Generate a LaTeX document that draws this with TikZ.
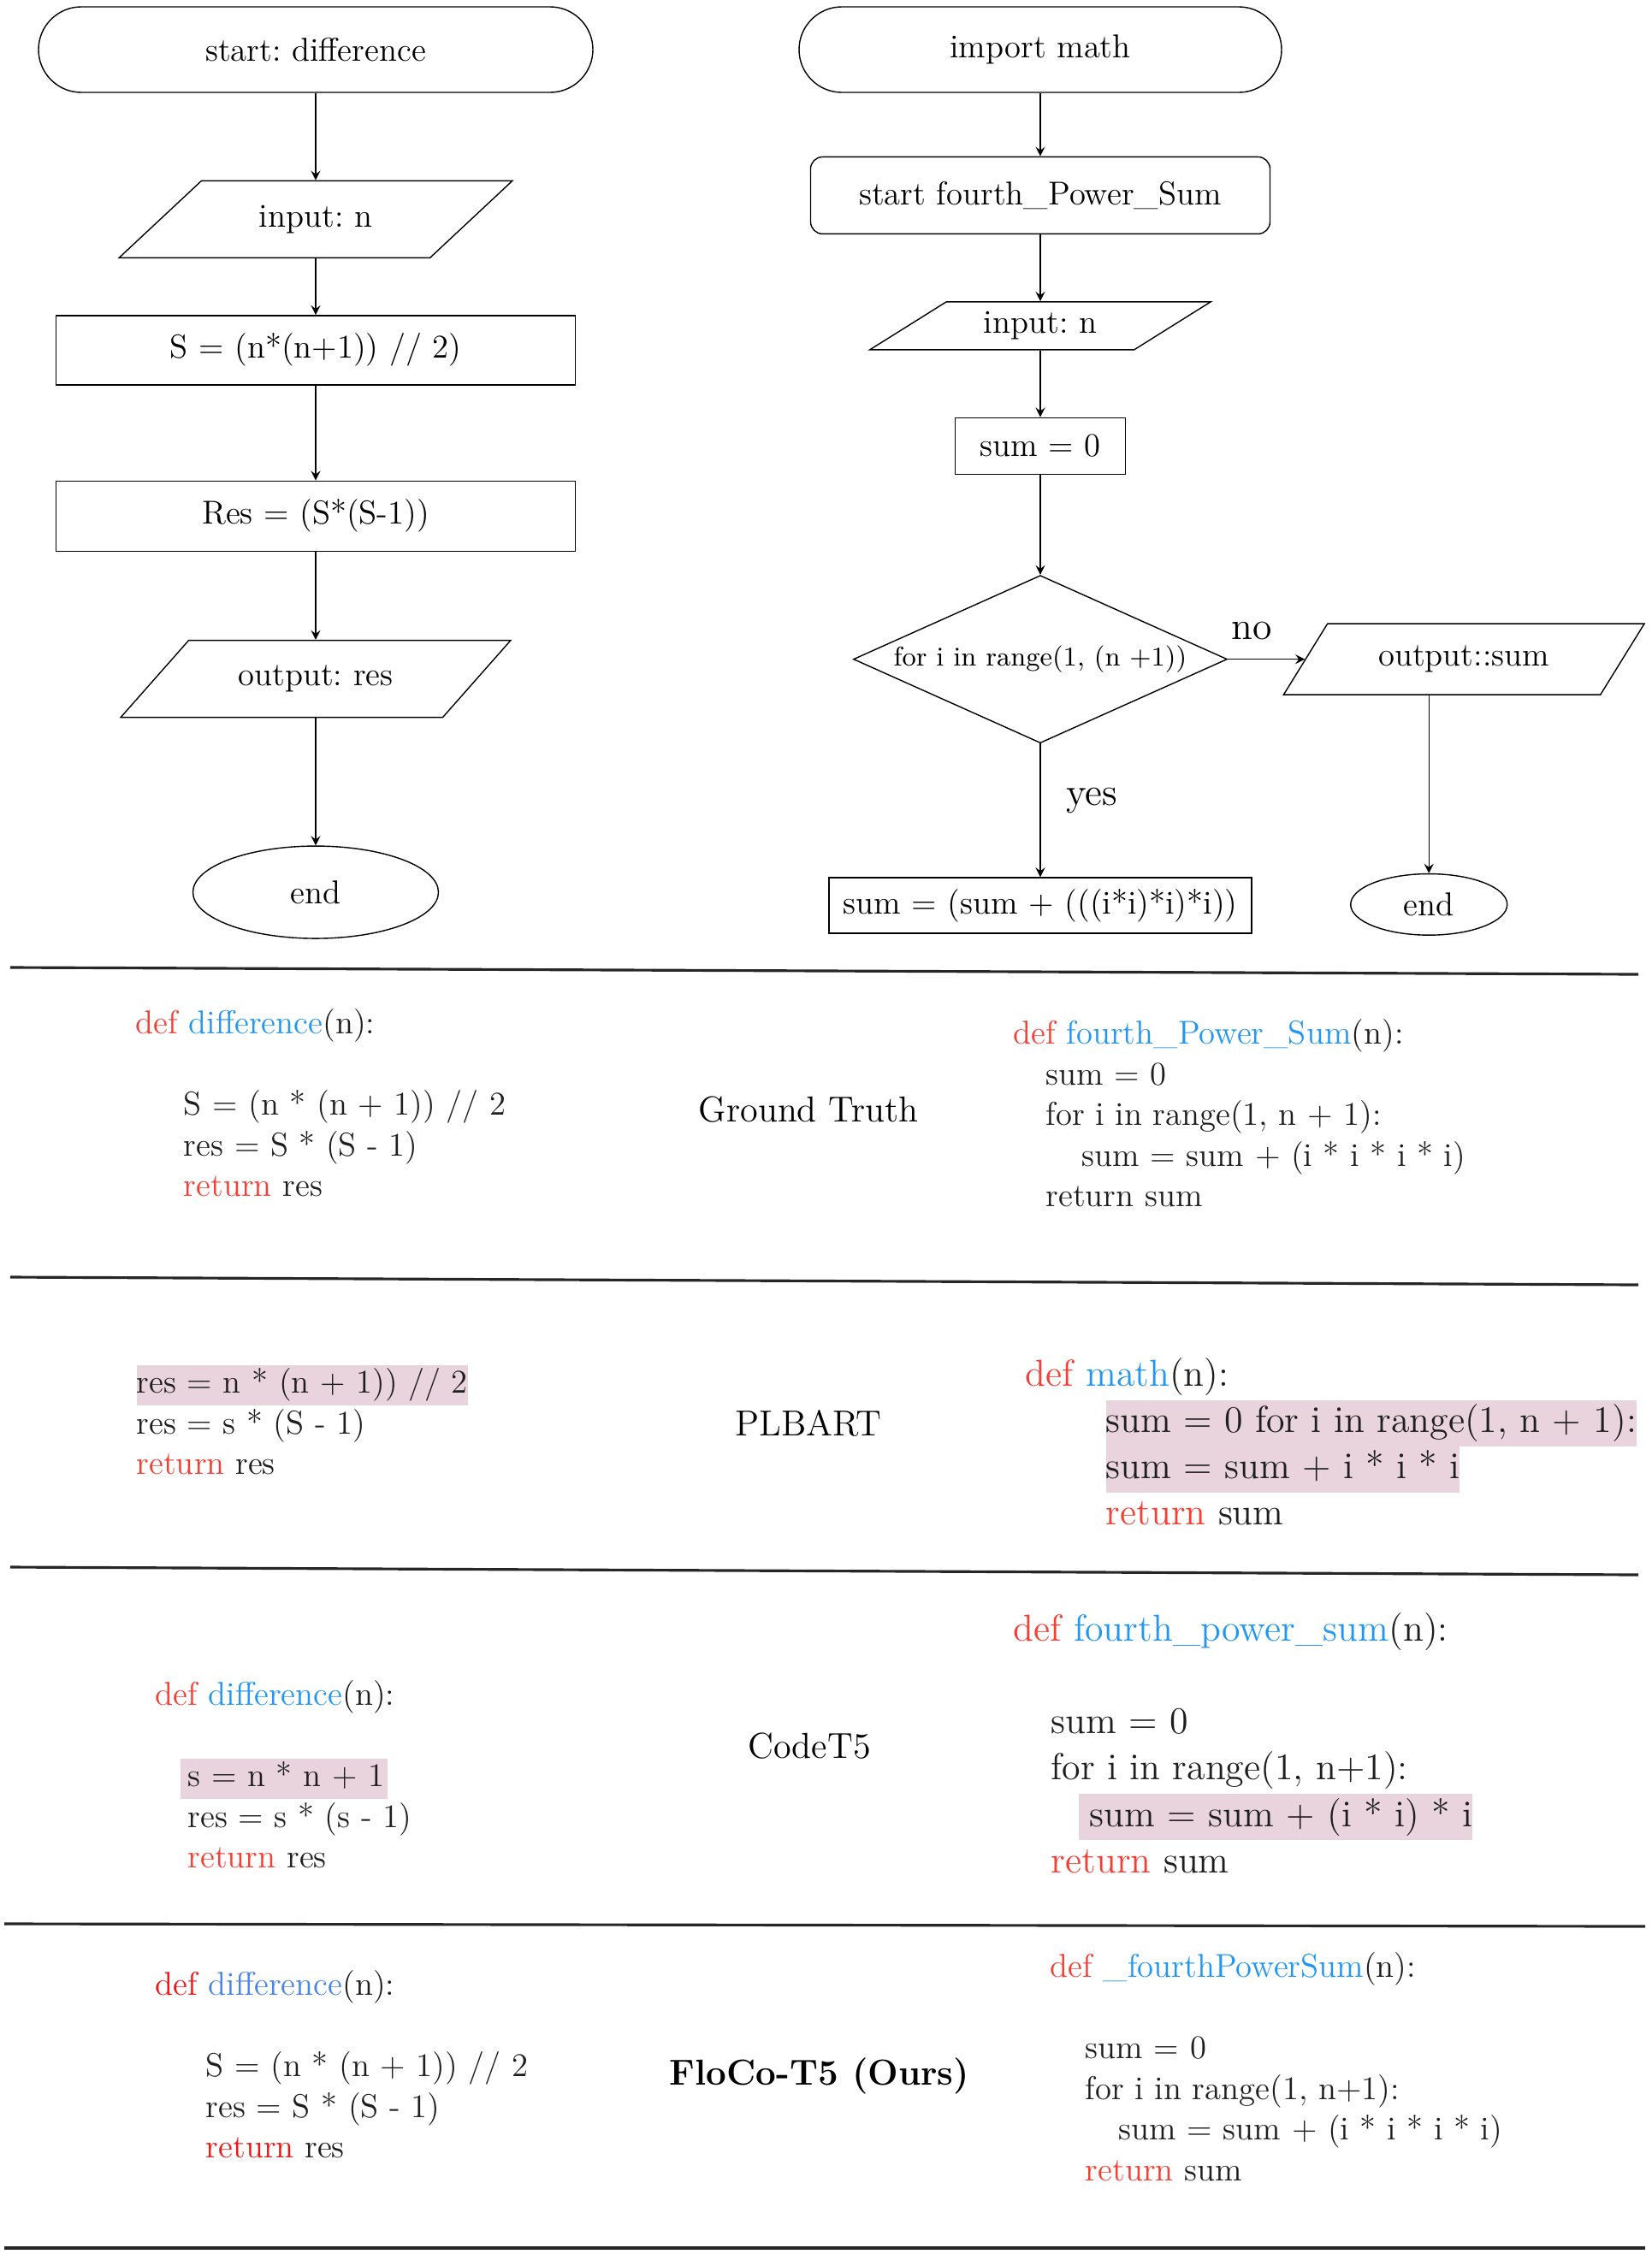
\documentclass[tikz,border=0pt]{standalone}
\usepackage{tikz}
\usetikzlibrary{arrows,shapes,positioning}
\usepackage{xcolor}
\definecolor{kwred}{RGB}{245,62,52}
\definecolor{fnblue}{RGB}{33,150,243}
\definecolor{oursred}{RGB}{240,20,20}
\definecolor{oursblue}{RGB}{72,132,232}
\definecolor{hlpink}{RGB}{233,212,222}
\definecolor{codegray}{RGB}{30,30,30}
\tikzstyle{base} = [draw, thin, font=\fontsize{11}{13}\selectfont, text centered]
\tikzstyle{terminal} = [base, rectangle, rounded corners=0.5cm, minimum height=1cm]
\tikzstyle{process} = [base, rectangle]
\tikzstyle{io} = [base, trapezium, trapezium left angle=45, trapezium right angle=135, trapezium stretches=true]
\tikzstyle{decision} = [base, diamond, aspect=2.23, inner sep=0pt]
\tikzstyle{stop} = [base, ellipse]
\tikzstyle{arrow} = [thin,->,>=stealth]
\tikzstyle{code} = [anchor=north west, inner sep=0pt, align=left, text=codegray, font=\fontsize{11}{13.5}\selectfont]
\tikzstyle{bigcode} = [code, font=\fontsize{12.5}{15.4}\selectfont]
\tikzstyle{model} = [anchor=base, font=\fontsize{12}{14}\selectfont]
\tikzstyle{rule} = [line width=0.9pt, black!85]
\newcommand{\kw}[1]{\textcolor{kwred}{#1}}
\newcommand{\fn}[1]{\textcolor{fnblue}{#1}}
\newcommand{\hl}[1]{{\setlength{\fboxsep}{0pt}\colorbox{hlpink}{\strut#1}}}

\begin{document}
\frenchspacing
\begin{tikzpicture}
\useasboundingbox (0,0) rectangle (19.30,-26.35);
% Flowchart: difference
\node[terminal, minimum width=6.48cm] (lstart) at (3.69,-0.58) {start: difference};
\node[io, minimum width=4.6cm, minimum height=0.9cm, below=1.02cm of lstart] (lin) {input: n};
\node[process, minimum width=6.07cm, minimum height=0.81cm, below=0.66cm of lin] (lcalc) {S = (n*(n+1)) // 2)};
\node[process, minimum width=6.07cm, minimum height=0.82cm, below=1.11cm of lcalc] (lres) {Res = (S*(S-1))};
\node[io, minimum width=4.6cm, minimum height=0.9cm, below=1.03cm of lres] (lout) {output: res};
\node[stop, minimum width=2.87cm, minimum height=1.08cm, below=1.49cm of lout] (lend) {end};

\draw[arrow] (lstart.south) -- (lin.north);
\draw[arrow] (lin.south) -- (lcalc.north);
\draw[arrow] (lcalc.south) -- (lres.north);
\draw[arrow] (lres.south) -- (lout.north);
\draw[arrow] (lout.south) -- (lend.north);

% Flowchart: fourth power sum
\node[terminal, minimum width=5.64cm] (rimp) at (12.16,-0.58) {import math};
\node[process, rounded corners=4pt, minimum width=5.37cm, minimum height=0.9cm, below=0.74cm of rimp] (rstart) {start fourth\_Power\_Sum};
\node[io, trapezium left angle=35, trapezium right angle=145, minimum width=4.01cm, minimum height=0.56cm, inner sep=1pt, below=0.78cm of rstart] (rin) {input: n};
\node[process, minimum width=1.99cm, minimum height=0.66cm, below=0.78cm of rin] (rsum) {sum = 0};
\node[decision, minimum width=4.37cm, minimum height=1.96cm, font=\fontsize{9}{11}\selectfont, below=1.17cm of rsum] (rloop) {for i in range(1, (n +1))};
\node[process, minimum width=4.94cm, minimum height=0.65cm, below=1.56cm of rloop] (rbody) {sum = (sum + (((i*i)*i)*i))};
\node[io, trapezium left angle=49, trapezium right angle=131, minimum width=4.23cm, minimum height=0.83cm, inner sep=1pt, right=0.9cm of rloop] (rout) {output::sum};
\node[stop, minimum width=1.83cm, minimum height=0.69cm, below=2.08cm of rout, xshift=-0.41cm] (rend) {end};

\draw[arrow] (rimp.south) -- (rstart.north);
\draw[arrow] (rstart.south) -- (rin.north);
\draw[arrow] (rin.south) -- (rsum.north);
\draw[arrow] (rsum.south) -- (rloop.north);
\draw[arrow] (rloop.east) -- node[above=3pt, pos=0.31, font=\fontsize{13}{15}\selectfont] {no} (rout.west);
\draw[arrow] (rloop.south) -- node[right=5pt, pos=0.43, font=\fontsize{13}{15}\selectfont] {yes} (rbody.north);
\draw[arrow] (rout.south -| rend.north) -- (rend.north);

% Separators
\draw[rule] (0.12,-11.31) -- (19.15,-11.39);
\draw[rule] (0.12,-14.93) -- (19.15,-15.02);
\draw[rule] (0.12,-18.32) -- (19.15,-18.41);
\draw[rule] (0.05,-22.49) -- (19.23,-22.52);
\draw[rule] (0.05,-26.28) -- (19.23,-26.28);

% Ground Truth
\node[code] (gtl) at (1.58,-11.75) {\strut\kw{def} \fn{difference}(n):\\[13.5pt]
\hspace*{16pt}S = (n * (n + 1)) // 2\\
\hspace*{16pt}res = S * (S - 1)\\
\hspace*{16pt}\kw{return} res};
\node[model] (gtlab) at (9.45,-13.11) {Ground Truth};
\node[code] (gtr) at (11.84,-11.87) {\strut\kw{def} \fn{fourth\_Power\_Sum}(n):\\
\hspace*{10.8pt}sum = 0\\
\hspace*{10.8pt}for i in range(1, n + 1):\\
\hspace*{22.8pt}sum = sum + (i * i * i * i)\\
\hspace*{10.8pt}return sum};

% PLBART
\node[code] (plbl) at (1.59,-15.95) {\hl{res = n * (n + 1)) // 2}\\
res = s * (S - 1)\\
\kw{return} res};
\node[model] (pllab) at (9.45,-16.78) {PLBART};
\node[bigcode] (plbr) at (11.98,-15.82) {\strut\kw{def} \fn{math}(n):\\
\hspace*{26.7pt}\hl{sum = 0 for i in range(1, n + 1):}\\
\hspace*{26.7pt}\hl{sum = sum + i * i * i}\\
\hspace*{26.7pt}\kw{return} sum};

% CodeT5
\node[code] (ct5l) at (1.81,-19.60) {\strut\kw{def} \fn{difference}(n):\\[13.5pt]
\hspace*{8.2pt}\hl{\hspace{2.6pt}s = n * n + 1\hspace{1pt}}\\
\hspace*{10.8pt}res = s * (s - 1)\\
\hspace*{10.8pt}\kw{return} res};
\node[model] (ct5lab) at (9.46,-20.55) {CodeT5};
\node[bigcode] (ct5r) at (11.84,-18.80) {\strut\kw{def} \fn{fourth\_power\_sum}(n):\\[15.4pt]
\hspace*{12.5pt}sum = 0\\
\hspace*{12.5pt}for i in range(1, n+1):\\
\hspace*{21.6pt}\hl{\hspace{3.7pt}sum = sum + (i * i) * i}\\
\hspace*{12.5pt}\kw{return} sum};

% FloCo-T5
\node[code] (ftl) at (1.81,-22.99) {\strut\textcolor{oursred}{def} \textcolor{oursblue}{difference}(n):\\[13.5pt]
\hspace*{16.8pt}S = (n * (n + 1)) // 2\\
\hspace*{16.8pt}res = S * (S - 1)\\
\hspace*{16.8pt}\textcolor{oursred}{return} res};
\node[model, font=\fontsize{12}{14}\selectfont\bfseries] (ftlab) at (9.58,-24.37) {FloCo-T5 (Ours)};
\node[code] (ftr) at (12.27,-22.78) {\strut\kw{def} \fn{\_fourthPowerSum}(n):\\[13.5pt]
\hspace*{11.7pt}sum = 0\\
\hspace*{11.7pt}for i in range(1, n+1):\\
\hspace*{22.8pt}sum = sum + (i * i * i * i)\\
\hspace*{11.7pt}\kw{return} sum};
\end{tikzpicture}
\end{document}
